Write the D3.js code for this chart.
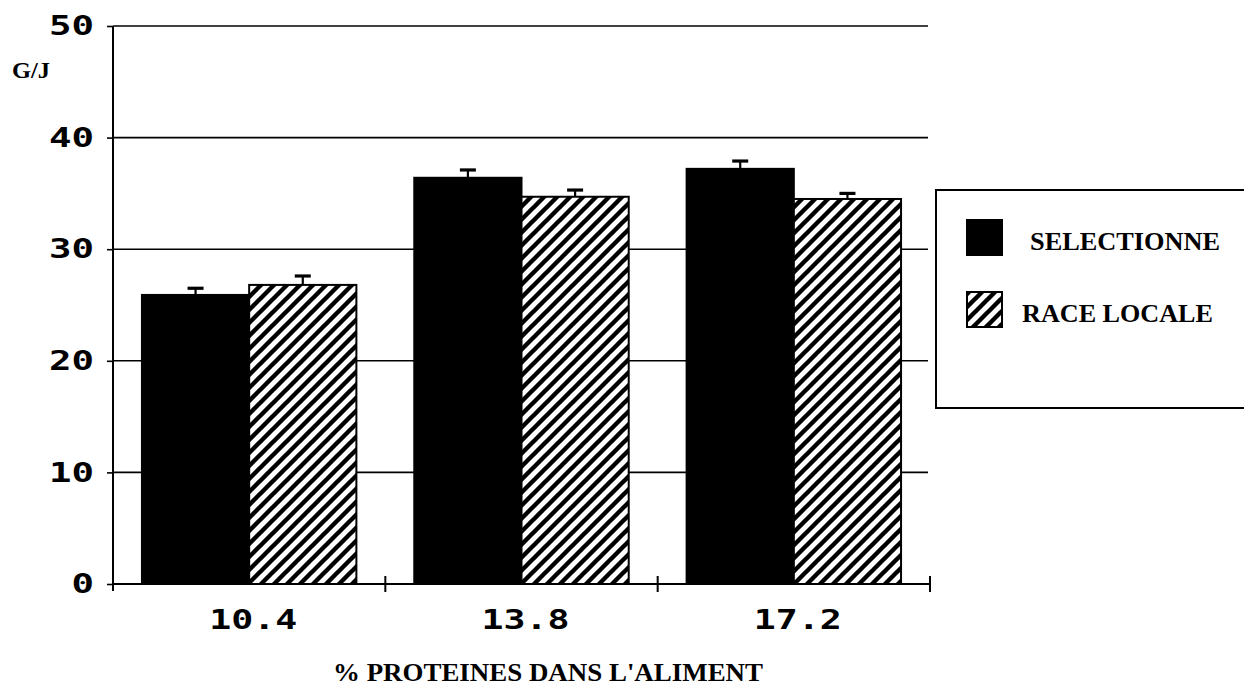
<!DOCTYPE html>
<html><head><meta charset="utf-8">
<script src="https://cdn.jsdelivr.net/npm/d3@7"></script>
<style>body{margin:0;background:#fff}svg{display:block}</style>
</head><body>
<svg id="c" width="1244" height="689"></svg>
<script>
const categories = ["10.4", "13.8", "17.2"];
const seriesNames = ["SELECTIONNE", "RACE LOCALE"];
const selectionne = [25.9, 36.4, 37.2];
const selectionneErr = [0.6, 0.7, 0.7];
const raceLocale = [26.8, 34.7, 34.5];
const raceLocaleErr = [0.8, 0.6, 0.5];
const yTicks = [0, 10, 20, 30, 40, 50];
const yLabel = "G/J";
const xLabel = "% PROTEINES DANS L'ALIMENT";

const svg = d3.select("#c");
const L = 113, R = 930, T = 26, B = 584;
const y = d3.scaleLinear().domain([0, 50]).range([B, T]);
const x0 = d3.scaleBand().domain(categories).range([L, R]).padding(0);
const x1 = d3.scaleBand().domain(seriesNames).range([0, x0.bandwidth()]).paddingInner(0).paddingOuter(0.27);

const defs = svg.append("defs");
const P = 13;
const pat = defs.append("pattern").attr("id", "hatch").attr("patternUnits", "userSpaceOnUse")
  .attr("width", P).attr("height", P);
pat.append("rect").attr("width", P).attr("height", P).attr("fill", "#fff");
pat.append("path").attr("d", `M-4,4 L4,-4 M0,${P} L${P},0 M${P-4},${P+4} L${P+4},${P-4}`)
  .attr("stroke", "#000").attr("stroke-width", 4.4);

// gridlines
svg.append("g").selectAll("line").data(yTicks.filter(d => d > 0)).join("line")
  .attr("x1", L).attr("x2", R - 2).attr("y1", d => y(d)).attr("y2", d => y(d))
  .attr("stroke", "#000").attr("stroke-width", 1.6);

const data = categories.map((c, i) => [
  {cat: c, s: seriesNames[0], v: selectionne[i], e: selectionneErr[i]},
  {cat: c, s: seriesNames[1], v: raceLocale[i], e: raceLocaleErr[i]}
]).flat();

const bars = svg.append("g");
bars.selectAll("rect").data(data).join("rect")
  .attr("x", d => x0(d.cat) + x1(d.s))
  .attr("y", d => y(d.v))
  .attr("width", x1.bandwidth())
  .attr("height", d => y(0) - y(d.v))
  .attr("fill", d => d.s === seriesNames[0] ? "#000" : "url(#hatch)")
  .attr("stroke", "#000").attr("stroke-width", 2);

// error bars
const eb = svg.append("g");
const cx = d => x0(d.cat) + x1(d.s) + x1.bandwidth() / 2;
eb.selectAll("line.stem").data(data).join("line").attr("class", "stem")
  .attr("x1", cx).attr("x2", cx)
  .attr("y1", d => y(d.v)).attr("y2", d => y(d.v + d.e))
  .attr("stroke", "#000").attr("stroke-width", 2.2);
eb.selectAll("line.cap").data(data).join("line").attr("class", "cap")
  .attr("x1", d => cx(d) - 8).attr("x2", d => cx(d) + 8)
  .attr("y1", d => y(d.v + d.e)).attr("y2", d => y(d.v + d.e))
  .attr("stroke", "#000").attr("stroke-width", 3.2);

const monoFont = "'DejaVu Sans Mono', monospace";
// y axis
const yAxis = svg.append("g").attr("transform", `translate(${L},0)`)
  .call(d3.axisLeft(y).tickValues(yTicks).tickSize(6).tickPadding(13).tickFormat(d3.format("d")));
yAxis.select(".domain").attr("d", `M0,${T} V${B + 7}`).attr("stroke-width", 2);
yAxis.selectAll(".tick line").attr("stroke-width", 1.6);
yAxis.selectAll(".tick text").attr("font-family", monoFont)
  .attr("font-weight", "bold").attr("font-size", 27).attr("fill", "#000")
  .attr("textLength", d => String(d).length * 22.5).attr("lengthAdjust", "spacingAndGlyphs");

// x axis
const xAxis = svg.append("g").attr("transform", `translate(0,${B})`)
  .call(d3.axisBottom(x0).tickSize(0).tickPadding(26));
xAxis.select(".domain").attr("d", `M${L},0 H${R}`).attr("stroke-width", 2);
xAxis.selectAll(".tick text").attr("font-family", monoFont)
  .attr("font-weight", "bold").attr("font-size", 27).attr("fill", "#000")
  .attr("dx", 4)
  .attr("textLength", 88).attr("lengthAdjust", "spacingAndGlyphs");
const bounds = categories.map(c => x0(c) + x0.bandwidth());
xAxis.append("g").selectAll("line").data(bounds).join("line")
  .attr("x1", d => d).attr("x2", d => d).attr("y1", -8).attr("y2", 8)
  .attr("stroke", "#000").attr("stroke-width", 2);

// labels
const serif = "'Liberation Serif', serif";
svg.append("text").attr("x", 12).attr("y", 78).text(yLabel)
  .attr("font-family", serif).attr("font-weight", "bold").attr("font-size", 24)
  .attr("textLength", 38).attr("lengthAdjust", "spacingAndGlyphs");
svg.append("text").attr("x", 333).attr("y", 681).text(xLabel)
  .attr("font-family", serif).attr("font-size", 25).attr("font-weight", "bold")
  .attr("textLength", 430).attr("lengthAdjust", "spacingAndGlyphs");

// legend
const lg = svg.append("g");
lg.append("rect").attr("x", 936).attr("y", 190).attr("width", 320).attr("height", 218)
  .attr("fill", "#fff").attr("stroke", "#000").attr("stroke-width", 2);
const legendY = [220, 292];
lg.selectAll("rect.sw").data(seriesNames).join("rect").attr("class", "sw")
  .attr("x", 967).attr("y", (d, i) => legendY[i]).attr("width", 35).attr("height", 35)
  .attr("fill", (d, i) => i === 0 ? "#000" : "url(#hatch)").attr("stroke", "#000").attr("stroke-width", 2);
lg.selectAll("text").data(seriesNames).join("text")
  .attr("x", (d, i) => i === 0 ? 1030 : 1022).attr("y", (d, i) => legendY[i] + 30).text(d => d)
  .attr("font-family", serif).attr("font-weight", "bold").attr("font-size", 26)
  .attr("textLength", (d, i) => i === 0 ? 190 : 191).attr("lengthAdjust", "spacingAndGlyphs");
</script>
</body></html>
